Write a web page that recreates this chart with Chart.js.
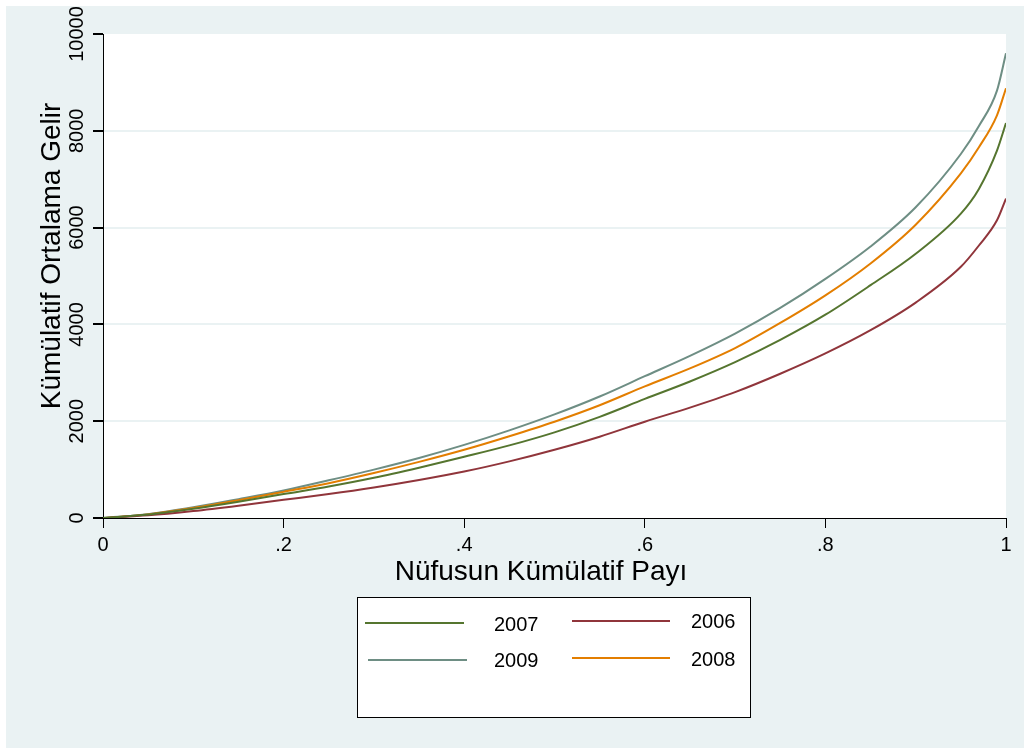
<!DOCTYPE html>
<html lang="tr">
<head>
<meta charset="utf-8">
<title>Kümülatif Ortalama Gelir</title>
<script src="https://cdn.jsdelivr.net/npm/chart.js@4.4.1/dist/chart.umd.min.js"></script>
<style>
  html, body { margin: 0; padding: 0; background: #fff; }
  #wrap { width: 1024px; height: 748px; }
</style>
</head>
<body>
<div id="wrap"><canvas id="lorenz" width="1024" height="748"></canvas></div>
<script>
// Nüfusun kümülatif payı (x ekseni)
const shares = [0, 0.05, 0.1, 0.15, 0.2, 0.25, 0.3, 0.35, 0.4, 0.45, 0.5, 0.55,
                0.6, 0.65, 0.7, 0.75, 0.8, 0.85, 0.9, 0.95, 0.97, 0.99, 1];

// Yıllara göre kümülatif ortalama gelir
const gelir2006 = [0, 55, 145, 255, 375, 495, 630, 785, 960, 1170, 1410, 1680,
                   1990, 2280, 2600, 2980, 3400, 3880, 4450, 5190, 5630, 6150, 6600];
const gelir2007 = [0, 70, 190, 335, 495, 650, 830, 1040, 1265, 1500, 1770, 2090,
                   2460, 2820, 3220, 3680, 4200, 4810, 5460, 6290, 6800, 7590, 8160];
const gelir2008 = [0, 75, 205, 365, 540, 720, 930, 1160, 1410, 1690, 1990, 2330,
                   2720, 3090, 3510, 4030, 4600, 5260, 6060, 7120, 7660, 8320, 8880];
const gelir2009 = [0, 80, 220, 390, 570, 780, 1000, 1240, 1510, 1810, 2140, 2510,
                   2930, 3350, 3810, 4340, 4940, 5610, 6420, 7520, 8100, 8830, 9600];

const xTicks = [0, 0.2, 0.4, 0.6, 0.8, 1];
const yTicks = [0, 2000, 4000, 6000, 8000, 10000];

// Stata s2color renkleri
const BG = '#eaf2f3';
const COLORS = {
    '2006': 'rgb(144,53,59)',
    '2007': 'rgb(85,117,47)',
    '2008': 'rgb(227,126,0)',
    '2009': 'rgb(110,142,132)'
};
const FONT = '"Liberation Sans", Arial, sans-serif';

const toPoints = arr => arr.map((v, i) => ({ x: shares[i], y: v }));

const series = [
    { label: '2007', data: gelir2007 },
    { label: '2006', data: gelir2006 },
    { label: '2008', data: gelir2008 },
    { label: '2009', data: gelir2009 }
];

// Arka plan, döndürülmüş etiketler, başlıklar ve lejant
const stataFrame = {
    id: 'stataFrame',
    beforeDraw(chart) {
        const { ctx, chartArea: a, width, height } = chart;
        ctx.save();
        ctx.fillStyle = '#fff';
        ctx.fillRect(0, 0, width, height);
        ctx.fillStyle = BG;
        ctx.fillRect(6, 6, width - 6, height - 6);
        ctx.fillStyle = '#fff';
        ctx.fillRect(a.left, a.top, a.right - a.left, a.bottom - a.top);
        ctx.restore();
    },
    afterDraw(chart) {
        const { ctx, scales } = chart;
        ctx.save();
        ctx.fillStyle = '#000';

        // y ekseni etiketleri (dikey)
        ctx.font = '20px ' + FONT;
        ctx.textAlign = 'center';
        ctx.textBaseline = 'alphabetic';
        scales.y.ticks.forEach(t => {
            const py = scales.y.getPixelForValue(t.value);
            ctx.save();
            ctx.translate(83, py);
            ctx.rotate(-Math.PI / 2);
            ctx.fillText(String(t.value), 0, 0);
            ctx.restore();
        });

        // eksen başlıkları
        ctx.font = '28px ' + FONT;
        ctx.save();
        ctx.translate(60, 256);
        ctx.rotate(-Math.PI / 2);
        ctx.fillText('Kümülatif Ortalama Gelir', 0, 0);
        ctx.restore();
        ctx.fillText('Nüfusun Kümülatif Payı', 541, 580);

        // lejant kutusu
        ctx.fillStyle = '#fff';
        ctx.fillRect(357.5, 597.5, 393, 120);
        ctx.strokeStyle = '#000';
        ctx.lineWidth = 1;
        ctx.strokeRect(357.5, 597.5, 393, 120);

        const slots = [
            { x1: 365, x2: 464, ly: 623, tx: 494, ty: 625 },
            { x1: 572, x2: 670, ly: 621, tx: 691, ty: 622 },
            { x1: 572, x2: 670, ly: 658, tx: 691, ty: 660 },
            { x1: 368, x2: 467, ly: 660, tx: 494, ty: 661 }
        ];
        ctx.font = '20px ' + FONT;
        ctx.textAlign = 'left';
        ctx.textBaseline = 'middle';
        chart.data.datasets.forEach((ds, i) => {
            const s = slots[i];
            ctx.strokeStyle = ds.borderColor;
            ctx.lineWidth = 2;
            ctx.beginPath();
            ctx.moveTo(s.x1, s.ly);
            ctx.lineTo(s.x2, s.ly);
            ctx.stroke();
            ctx.fillStyle = '#000';
            ctx.fillText(ds.label, s.tx, s.ty);
        });
        ctx.restore();
    }
};

const fmtShare = v => {
    const r = Math.round(v * 10) / 10;
    if (r === 0) return '0';
    if (r === 1) return '1';
    return String(r).replace(/^0/, '');
};

new Chart(document.getElementById('lorenz'), {
    type: 'line',
    data: {
        datasets: series.map(s => ({
            label: s.label,
            data: toPoints(s.data),
            borderColor: COLORS[s.label],
            backgroundColor: COLORS[s.label],
            borderWidth: 2,
            pointRadius: 0,
            fill: false,
            cubicInterpolationMode: 'monotone'
        }))
    },
    options: {
        responsive: false,
        animation: false,
        devicePixelRatio: 1,
        layout: { padding: { top: 34, right: 18, left: 0, bottom: 0 } },
        plugins: {
            legend: { display: false },
            tooltip: { enabled: false }
        },
        scales: {
            x: {
                type: 'linear',
                min: 0,
                max: 1,
                afterBuildTicks: scale => { scale.ticks = xTicks.map(v => ({ value: v })); },
                afterFit: scale => { scale.height = 230; },
                border: { display: true, color: '#000', width: 1 },
                grid: {
                    drawOnChartArea: false,
                    drawTicks: true,
                    tickLength: 10,
                    tickColor: '#000'
                },
                ticks: {
                    color: '#000',
                    font: { size: 20, family: FONT },
                    padding: 5,
                    maxRotation: 0,
                    callback: v => fmtShare(v)
                }
            },
            y: {
                min: 0,
                max: 10000,
                afterBuildTicks: scale => { scale.ticks = yTicks.map(v => ({ value: v })); },
                afterFit: scale => { scale.width = 103; },
                border: { display: true, color: '#000', width: 1 },
                grid: {
                    drawTicks: true,
                    tickLength: 10,
                    tickColor: '#000',
                    lineWidth: 2,
                    color: ctx => (ctx.tick && (ctx.tick.value === 0 || ctx.tick.value === 10000))
                        ? 'rgba(0,0,0,0)' : BG
                },
                ticks: { display: false }
            }
        }
    },
    plugins: [stataFrame]
});
</script>
</body>
</html>
